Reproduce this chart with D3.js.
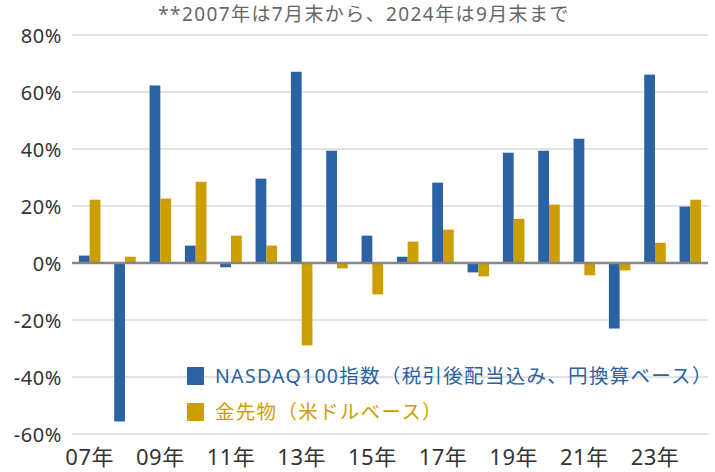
<!DOCTYPE html>
<html>
<head>
<meta charset="utf-8">
<script src="https://cdn.jsdelivr.net/npm/d3@7"></script>
<style>
  body { margin: 0; background: #fff; }
  svg { display: block; font-family: "Noto Sans", "Noto Sans CJK JP", sans-serif; }
</style>
</head>
<body>
<div id="chart"></div>
<script>
var years = ["07年", "08年", "09年", "10年", "11年", "12年", "13年", "14年", "15年",
             "16年", "17年", "18年", "19年", "20年", "21年", "22年", "23年", "24年"];
var nasdaq = [2.6, -55.6, 62.3, 6.1, -1.5, 29.6, 67.1, 39.4, 9.6,
              2.2, 28.2, -3.3, 38.7, 39.4, 43.6, -23.0, 66.1, 19.8];
var gold = [22.2, 2.2, 22.6, 28.5, 9.6, 6.1, -28.9, -1.9, -11.0,
            7.5, 11.7, -4.7, 15.5, 20.5, -4.3, -2.6, 7.1, 22.2];
var yTicks = [80, 60, 40, 20, 0, -20, -40, -60];
var seriesNames = ["NASDAQ100指数（税引後配当込み、円換算ベース）", "金先物（米ドルベース）"];
var colors = ["#2A62A2", "#CC9E00"];

(function() {
    var width = 715, height = 472;
    var plotLeft = 72, plotRight = 708, plotTop = 35, plotBottom = 434;

    var svg = d3.select("#chart").append("svg")
        .attr("width", width)
        .attr("height", height);

    var x = d3.scaleBand().domain(years).range([plotLeft, plotRight]).paddingInner(0.39).paddingOuter(0.195);
    var xSub = d3.scaleBand().domain([0, 1]).range([0, x.bandwidth()]);
    var y = d3.scaleLinear().domain([-60, 80]).range([plotBottom, plotTop]);

    // title
    svg.append("text")
        .attr("x", 364)
        .attr("y", 21)
        .attr("text-anchor", "middle")
        .attr("fill", "#666")
        .style("font-size", "19px")
        .style("letter-spacing", "1.4px")
        .text("**2007年は7月末から、2024年は9月末まで");

    // gridlines
    svg.append("g").selectAll("line")
        .data(yTicks.filter(d => d !== 0))
        .enter().append("line")
        .attr("x1", plotLeft).attr("x2", plotRight)
        .attr("y1", d => y(d)).attr("y2", d => y(d))
        .attr("stroke", "#e3e3e3")
        .attr("stroke-width", 2);

    // y axis labels
    var yAxis = svg.append("g")
        .attr("transform", "translate(62,0)")
        .call(d3.axisLeft(y).tickValues(yTicks).tickSize(0).tickPadding(0).tickFormat(d => d + "%"));
    yAxis.select(".domain").remove();
    yAxis.selectAll("text")
        .attr("fill", "#333")
        .style("font-size", "20px")
        .style("letter-spacing", "0.6px")
        .style("font-family", "'Noto Sans', 'Noto Sans CJK JP', sans-serif")
        .attr("dy", "0.36em");

    // bars
    var groups = svg.append("g").selectAll("g")
        .data(years)
        .enter().append("g")
        .attr("transform", d => "translate(" + x(d) + ",0)");

    groups.append("rect")
        .attr("x", xSub(0))
        .attr("width", xSub.bandwidth())
        .attr("y", (d, i) => y(Math.max(0, nasdaq[i])))
        .attr("height", (d, i) => Math.abs(y(nasdaq[i]) - y(0)))
        .attr("fill", colors[0]);

    groups.append("rect")
        .attr("x", xSub(1))
        .attr("width", xSub.bandwidth())
        .attr("y", (d, i) => y(Math.max(0, gold[i])))
        .attr("height", (d, i) => Math.abs(y(gold[i]) - y(0)))
        .attr("fill", colors[1]);

    // zero line
    svg.append("line")
        .attr("x1", plotLeft).attr("x2", plotRight)
        .attr("y1", y(0)).attr("y2", y(0))
        .attr("stroke", "#868686")
        .attr("stroke-width", 2.5);

    // x axis labels
    var xAxis = svg.append("g")
        .attr("transform", "translate(0,446)")
        .call(d3.axisBottom(x).tickValues(years.filter((d, i) => i % 2 === 0)).tickSize(0).tickPadding(0));
    xAxis.select(".domain").remove();
    xAxis.selectAll("text")
        .attr("fill", "#333")
        .style("font-size", "22px")
        .style("letter-spacing", "0.5px")
        .style("font-family", "'Noto Sans', 'Noto Sans CJK JP', sans-serif")
        .attr("dy", "0.85em");

    // legend
    var legend = svg.append("g").selectAll("g")
        .data(seriesNames)
        .enter().append("g")
        .attr("transform", (d, i) => "translate(187," + (367 + i * 36) + ")");

    legend.append("rect")
        .attr("width", 17)
        .attr("height", 18)
        .attr("fill", (d, i) => colors[i]);

    legend.append("text")
        .attr("x", 28)
        .attr("y", 16)
        .attr("fill", (d, i) => colors[i])
        .style("font-size", "19.5px")
        .style("letter-spacing", "1.3px")
        .text(d => d);
})();
</script>
</body>
</html>
